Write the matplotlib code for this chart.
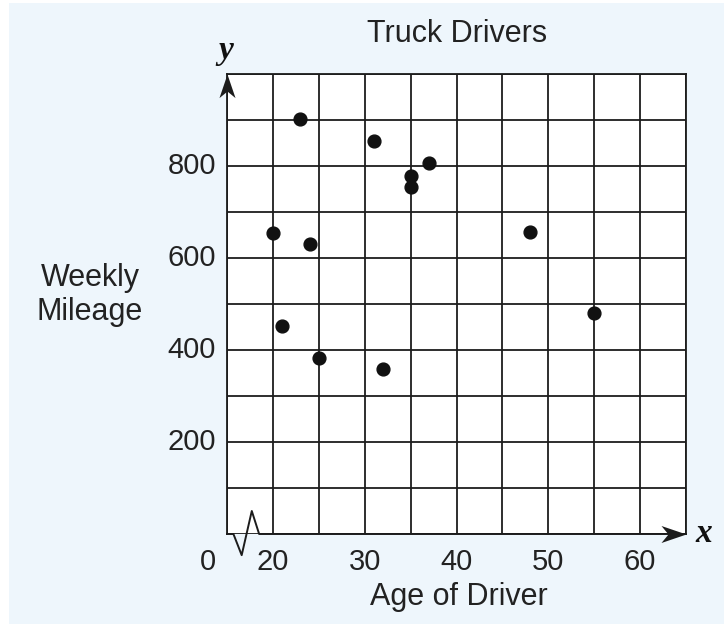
import matplotlib
matplotlib.use("Agg")
import matplotlib.pyplot as plt
from matplotlib.patches import Rectangle
from matplotlib.path import Path

plt.rcParams['font.family'] = ['Liberation Sans', 'DejaVu Sans']

# data
age = [20, 21, 23, 24, 25, 31, 32, 35, 35, 37, 48, 55]
mileage = [655, 452, 902, 630, 383, 855, 358, 778, 754, 806, 656, 481]

x_ticks = [20, 30, 40, 50, 60]
y_ticks = [200, 400, 600, 800]

ink = '#1c1c1c'

fig = plt.figure(figsize=(7.24, 6.24), dpi=100)
fig.patches.append(Rectangle((9 / 724, 0), 1, 621 / 624, transform=fig.transFigure,
                             facecolor='#eef6fc', edgecolor='none', zorder=-10))

ax = fig.add_axes([227 / 724, 90 / 624, 459 / 724, 460 / 624])
ax.set_facecolor('white')
ax.set_xlim(15, 65)
ax.set_ylim(0, 1000)

# grid
ax.set_xticks(range(15, 66, 5))
ax.set_yticks(range(0, 1001, 100))
ax.grid(True, color=ink, lw=1.3, zorder=1)
ax.tick_params(length=0, labelbottom=False, labelleft=False)
for side in ['top', 'right', 'left']:
    ax.spines[side].set_color(ink)
    ax.spines[side].set_linewidth(1.3)
ax.spines['bottom'].set_visible(False)

# x axis with break
ax.plot([15, 15.7, 16.6, 17.7, 18.5, 65], [0, 0, -46, 50, 0, 0],
        color=ink, lw=1.4, clip_on=False, zorder=3)

# arrow heads (tip sits on the marker anchor)
head_x = Path([(0, 0), (-1, 0.34), (-0.72, 0), (-1, -0.34), (0, 0)],
              [Path.MOVETO, Path.LINETO, Path.LINETO, Path.LINETO, Path.CLOSEPOLY])
head_y = Path([(0, 0), (0.34, -1), (0, -0.72), (-0.34, -1), (0, 0)],
              [Path.MOVETO, Path.LINETO, Path.LINETO, Path.LINETO, Path.CLOSEPOLY])
ax.plot([65], [0], marker=head_x, ms=36, color=ink, mew=0, clip_on=False, zorder=4)
ax.plot([15], [1000], marker=head_y, ms=34, color=ink, mew=0, clip_on=False, zorder=4)

# points
ax.scatter(age, mileage, s=85, color='#111111', zorder=5, clip_on=False)

# tick labels
for v in x_ticks:
    ax.annotate(str(v), (v, 0), xytext=(0, -10), textcoords='offset points',
                ha='center', va='top', fontsize=21, color='#222222')
ax.annotate('0', (15, 0), xytext=(-14, -10), textcoords='offset points',
            ha='center', va='top', fontsize=21, color='#222222')
for v in y_ticks:
    ax.annotate(str(v), (15, v), xytext=(-8, 0), textcoords='offset points',
                ha='right', va='center', fontsize=21, color='#222222')

# labels
fig.text(457 / 724, 1 - 34 / 624, 'Truck Drivers', ha='center', va='center',
         fontsize=22, color='#222222')
fig.text(459 / 724, 1 - 597 / 624, 'Age of Driver', ha='center', va='center',
         fontsize=22, color='#222222')
fig.text(90 / 724, 1 - 295 / 624, 'Weekly\nMileage', ha='center', va='center',
         fontsize=22, color='#222222')
fig.text(704 / 724, 1 - 534 / 624, 'x', ha='center', va='center', fontsize=24,
         family='Liberation Serif', style='italic', weight='bold', color='#111111')
fig.text(226 / 724, 1 - 50 / 624, 'y', ha='center', va='center', fontsize=24,
         family='Liberation Serif', style='italic', weight='bold', color='#111111')

fig.savefig('out.png', dpi=100)
